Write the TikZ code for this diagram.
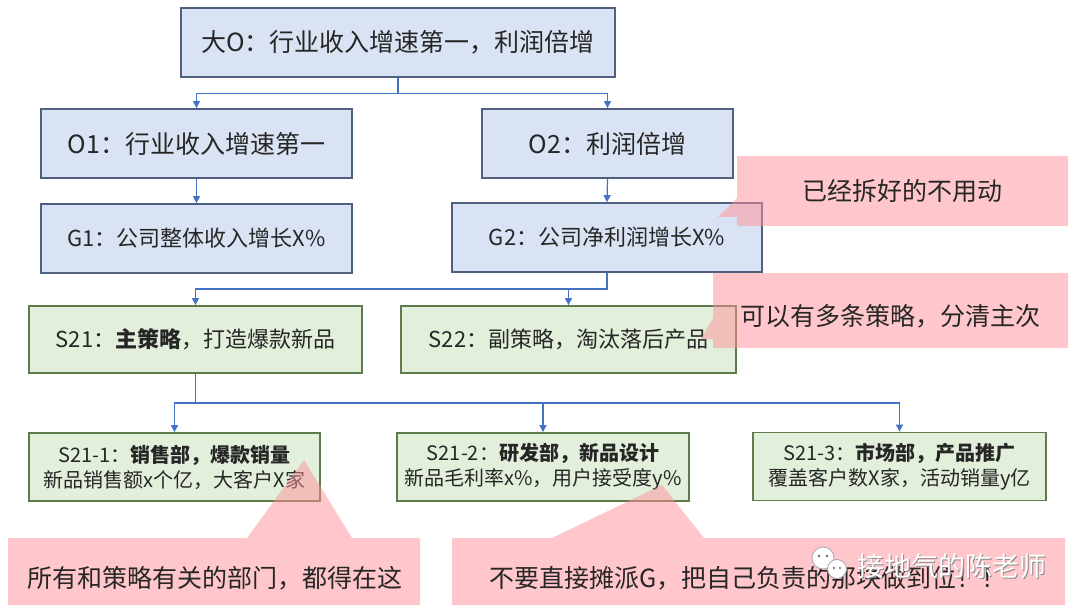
\documentclass[tikz,border=0pt]{standalone}
\usepackage{fontspec}
\setmainfont{Noto Sans CJK SC}
\usetikzlibrary{arrows.meta}
\definecolor{bluefill}{HTML}{DAE3F3}
\definecolor{blueline}{HTML}{506080}
\definecolor{greenfill}{HTML}{E2EFDA}
\definecolor{greenline}{HTML}{5F7A4B}
\definecolor{connc}{HTML}{4472C4}
\definecolor{pinkc}{HTML}{FF9199}
\definecolor{txt}{HTML}{262626}
\begin{document}
\begin{tikzpicture}[x=1pt,y=-1pt,
 bluebox/.style={draw=blueline, line width=1.8pt, fill=bluefill, inner sep=0pt, text=txt, align=center},
 greenbox/.style={draw=greenline, line width=1.8pt, fill=greenfill, inner sep=0pt, text=txt, align=center},
 conn/.style={draw=connc, line width=1.2pt, -{Triangle[length=7pt,width=7pt]}},
 callout/.style={fill=pinkc, fill opacity=0.5, draw=none},
 callouttext/.style={text=txt, font=\fontsize{25}{30}\selectfont, inner sep=0pt},
 big/.style={font=\fontsize{25}{30}\selectfont},
 mid/.style={font=\fontsize{22}{27}\selectfont},
 small/.style={font=\fontsize{20}{25}\selectfont},
]
\useasboundingbox (0,0) rectangle (1080,615);
\fill[white] (0,0) rectangle (1080,615);

% boxes
\node[bluebox, big, minimum width=434pt, minimum height=69pt] (bigO) at (398,42.5) {大O：行业收入增速第一，利润倍增};
\node[bluebox, big, minimum width=311pt, minimum height=69pt] (O1) at (196.5,143.5) {O1：行业收入增速第一};
\node[bluebox, big, minimum width=251pt, minimum height=69pt] (O2) at (607.5,143.5) {O2：利润倍增};
\node[bluebox, mid, minimum width=311pt, minimum height=69pt] (G1) at (196.5,238.5) {G1：公司整体收入增长X\%};
\node[bluebox, mid, minimum width=310pt, minimum height=69pt] (G2) at (607,237.5) {G2：公司净利润增长X\%};
\node[greenbox, mid, minimum width=333pt, minimum height=67pt] (S21) at (195.5,339.5) {S21：\textbf{主策略}，打造爆款新品};
\node[greenbox, mid, minimum width=335pt, minimum height=67pt] (S22) at (568.5,339.5) {S22：副策略，淘汰落后产品};
\node[greenbox, small, minimum width=291pt, minimum height=68pt] (S211) at (174.5,467) {S21-1：\textbf{销售部，爆款销量}\\新品销售额x个亿，大客户X家};
\node[greenbox, small, minimum width=292pt, minimum height=68pt] (S212) at (543,467) {S21-2：\textbf{研发部，新品设计}\\新品毛利率x\%，用户接受度y\%};
\node[greenbox, small, minimum width=293pt, minimum height=68pt] (S213) at (899.5,466.5) {S21-3：\textbf{市场部，产品推广}\\覆盖客户数X家，活动销量y亿};

% connectors
\draw[conn] (bigO.south) -- ++(0,16) -| (O1.north);
\draw[conn] (bigO.south) -- ++(0,16) -| (O2.north);
\draw[conn] (O1.south) -- (G1.north);
\draw[conn] (O2.south) -- (G2.north);
\draw[conn] (G2.south) -- ++(0,16) -| (S21.north);
\draw[conn] (G2.south) -- ++(0,16) -| (S22.north);
\draw[conn] (S21.south) -- ++(0,29) -| (S211.north);
\draw[conn] (S21.south) -- ++(0,29) -| (S212.north);
\draw[conn] (S21.south) -- ++(0,29) -| (S213.north);

% callouts
\fill[callout] (737,156) -- (1068,156) -- (1068,226) -- (737,226) -- (737,217) -- (718,217) -- (737,198) -- cycle;
\fill[callout] (713,273) -- (1068,273) -- (1068,348) -- (713,348) -- (713,339) -- (701,339) -- (713,318) -- cycle;
\fill[callout] (8,538) -- (247,538) -- (304,460) -- (352,538) -- (420,538) -- (420,605) -- (8,605) -- cycle;
\fill[callout] (452,538) -- (552,538) -- (662,485) -- (704,538) -- (1065,538) -- (1065,605) -- (452,605) -- cycle;

\node[callouttext] (t1) at (902,191) {已经拆好的不用动};
\node[callouttext] (t2) at (890,316) {可以有多条策略，分清主次};
\node[callouttext] (t3) at (215,578) {所有和策略有关的部门，都得在这};
\node[callouttext] (t4) at (748,578) {不要直接摊派G，把自己负责的那块做到位！！};

% watermark
\filldraw[fill=white, draw=black!35, line width=0.8pt] (823,558) circle (11);
\filldraw[fill=white, draw=black!35, line width=0.8pt] (837,569) circle (9.5);
\fill[black!60] (819,556) circle (1.3) (827,556) circle (1.3) (834,568) circle (1.1) (840,568) circle (1.1);
\node[text=black!45, font=\fontsize{27}{30}\selectfont, inner sep=0pt] (wms) at (953,567) {接地气的陈老师};
\node[text=white, font=\fontsize{27}{30}\selectfont, inner sep=0pt] (wm) at (952,566) {接地气的陈老师};
\end{tikzpicture}
\end{document}
